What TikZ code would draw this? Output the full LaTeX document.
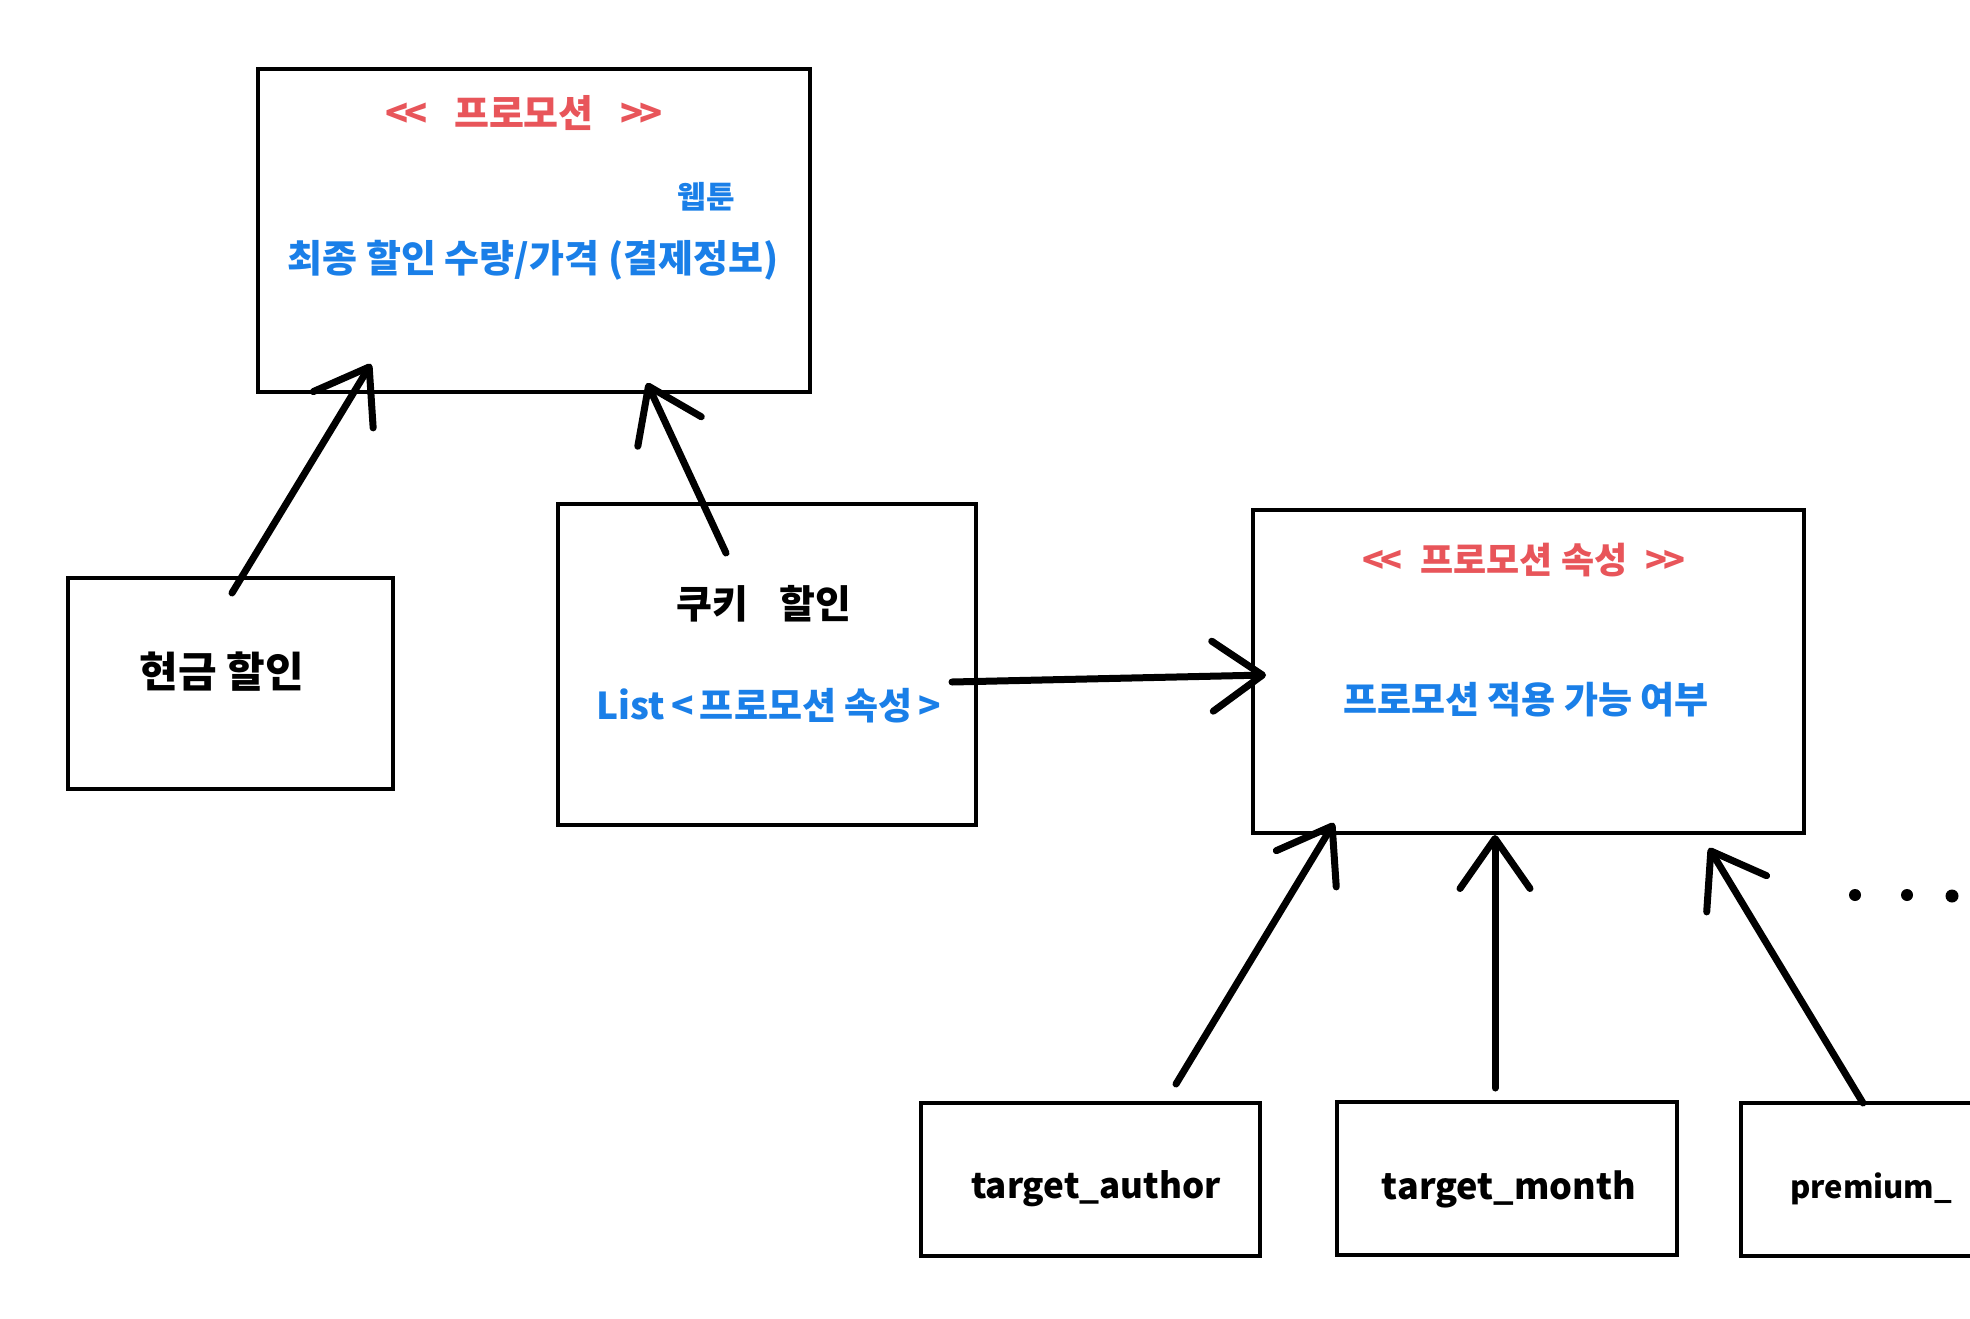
\documentclass[tikz,border=0pt]{standalone}
\usepackage{fontspec}
\setmainfont{Noto Sans CJK KR}[Ligatures=NoCommon]
\usetikzlibrary{arrows.meta}
\definecolor{hred}{HTML}{E8555A}
\definecolor{hblue}{HTML}{1A7FE8}
\newcommand{\llt}{<\kern-0.1em<}
\newcommand{\ggt}{>\kern-0.1em>}
\begin{document}
\begin{tikzpicture}[x=1pt,y=-1pt,
  box/.style={draw=black,line width=4pt,rectangle,inner sep=0pt},
  conn/.style={line width=7pt,line cap=round,-{Straight Barb[length=50pt,width=70pt,round]}},
  fs/.style={font=\fontsize{#1}{#1}\selectfont\bfseries}]
\useasboundingbox (0,0) rectangle (1970,1319);
\clip (0,0) rectangle (1970,1319);
\fill[white] (0,0) rectangle (1970,1319);
% boxes
\node[box,minimum width=552pt,minimum height=323pt] (promo) at (534,230.5) {};
\node[box,minimum width=325pt,minimum height=211pt] (cash) at (230.5,683.5) {};
\node[box,minimum width=418pt,minimum height=321pt] (cookie) at (767,664.5) {};
\node[box,minimum width=551pt,minimum height=323pt] (attr) at (1528.5,671.5) {};
\node[box,minimum width=339pt,minimum height=153pt] (author) at (1090.5,1179.5) {};
\node[box,minimum width=340pt,minimum height=153pt] (month) at (1507,1178.5) {};
\node[box,minimum width=362pt,minimum height=153pt,anchor=north west] (premium) at (1739,1101) {};
% texts
\node[fs=38,text=hred] (t1) at (524,113) {\llt\hspace{0.7em}프로모션\hspace{0.7em}\ggt};
\node[fs=31,text=hblue] (t2) at (706,197) {웹툰};
\node[fs=38,text=hblue] (t3) at (533,260) {최종 할인 수량/가격 (결제정보)};
\node[fs=42] (t4) at (222,672) {현금 할인};
\node[fs=39] (t5) at (764,604) {쿠키\hspace{0.8em}할인};
\node[fs=37,text=hblue] (t6) at (769,706) {List\,<\,프로모션 속성\,>};
\node[fs=36,text=hred] (t7) at (1524,560) {\llt\hspace{0.5em}프로모션 속성\hspace{0.5em}\ggt};
\node[fs=37,text=hblue] (t8) at (1526,700) {프로모션 적용 가능 여부};
\node[fs=35] (t9) at (1096,1189) {target\_author};
\node[fs=36] (t10) at (1509,1189) {target\_month};
\node[fs=31,anchor=west,inner sep=0pt] (t11) at (1790,1189) {premium\_};
% arrow end points
\coordinate (a1s) at (232,593);
\coordinate (a1e) at (371,364);
\coordinate (a2s) at (726,553);
\coordinate (a2e) at (647,383);
\coordinate (a3s) at (952,682);
\coordinate (a3e) at (1266,675);
\coordinate (a4s) at (1176,1084);
\coordinate (a4e) at (1334,823);
\coordinate (a5s) at (1495,1088);
\coordinate (a5e) at (1495,835);
\coordinate (a6s) at (1863,1103);
\coordinate (a6e) at (1709,848);
\draw[conn] (a1s) -- (a1e);
\draw[conn] (a2s) -- (a2e);
\draw[conn] (a3s) -- (a3e);
\draw[conn] (a4s) -- (a4e);
\draw[conn] (a5s) -- (a5e);
\draw[conn] (a6s) -- (a6e);
% dots
\fill (1855,895) circle (6);
\fill (1907,895) circle (6);
\fill (1952,896) circle (6.5);
\end{tikzpicture}
\end{document}
